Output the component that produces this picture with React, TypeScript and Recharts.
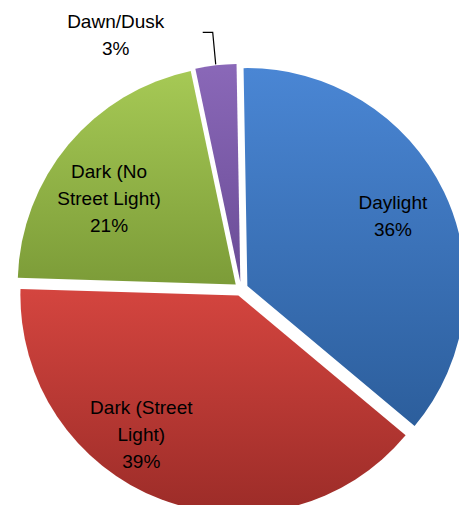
import React from "react";
import { PieChart, Pie, Cell } from "recharts";

const categories = ["Daylight", "Dark (Street Light)", "Dark (No Street Light)", "Dawn/Dusk"];
const values = [36, 39, 21, 3];
const labelLines = [["Daylight", "36%"], ["Dark (Street", "Light)", "39%"], ["Dark (No", "Street Light)", "21%"], ["Dawn/Dusk", "3%"]];
const colors = [["#4a86d4", "#2c5e9c"], ["#d4453f", "#9c2c28"], ["#a6c955", "#7c9c38"], ["#8a68b8", "#6a4c96"]];

const data = categories.map((name, i) => ({ name, value: values[i] }));
const CX = 236, CY = 284, R = 218, OFF = 7;
const total = values.reduce((a, b) => a + b, 0);
const RAD = Math.PI / 180;
const font = "'Liberation Sans', Arial, sans-serif";

export default function App() {
  let acc = 0;
  const pies = data.map((d, idx) => {
    const start = 90 - (acc / total) * 360;
    acc += d.value;
    const end = 90 - (acc / total) * 360;
    const mid = (start + end) / 2;
    const cx = CX + OFF * Math.cos(mid * RAD);
    const cy = CY - OFF * Math.sin(mid * RAD);
    const label = (p: any) => {
      if (p.index !== idx) return null;
      const lines = labelLines[idx];
      const m = p.midAngle + [0, -14, 6, 0][idx];
      if (idx === 3) {
        const ox = p.cx + (p.outerRadius + 1) * Math.cos(m * RAD);
        const oy = p.cy - (p.outerRadius + 1) * Math.sin(m * RAD);
        const ty = oy - 32;
        return (
          <g>
            <polyline points={`${ox},${oy} ${ox - 3},${ty} ${ox - 13},${ty}`} fill="none" stroke="#000" strokeWidth={1.2} />
            <text x={ox - 100} y={ty - 4} textAnchor="middle" fontFamily={font} fontSize={19} fill="#000">
              <tspan x={ox - 100} dy="0">{lines[0]}</tspan>
              <tspan x={ox - 100} dy="27">{lines[1]}</tspan>
            </text>
          </g>
        );
      }
      const fr = [0.74, 0.78, 0.7][idx];
      const x = p.cx + p.outerRadius * fr * Math.cos(m * RAD);
      const y = p.cy - p.outerRadius * fr * Math.sin(m * RAD);
      const y0 = y - ((lines.length - 1) * 27) / 2 + 6;
      return (
        <text x={x} y={y0} textAnchor="middle" fontFamily={font} fontSize={19} fill="#000">
          {lines.map((l, k) => (
            <tspan key={k} x={x} dy={k === 0 ? 0 : 27}>{l}</tspan>
          ))}
        </text>
      );
    };
    return (
      <Pie key={idx} data={data} dataKey="value" cx={cx} cy={cy} outerRadius={R} startAngle={91} endAngle={-269}
        isAnimationActive={false} stroke="none" label={label} labelLine={false}>
        {data.map((_, j) => (
          <Cell key={j} fill={j === idx ? `url(#g${j})` : "none"} />
        ))}
      </Pie>
    );
  });
  return (
    <div style={{ position: "absolute", left: 0, top: 0 }}>
      <PieChart width={459} height={505}>
        <defs>
          {colors.map((c, i) => (
            <linearGradient key={i} id={`g${i}`} x1="0" y1="0" x2="0" y2="1">
              <stop offset="0%" stopColor={c[0]} />
              <stop offset="100%" stopColor={c[1]} />
            </linearGradient>
          ))}
        </defs>
        {pies}
      </PieChart>
    </div>
  );
}
